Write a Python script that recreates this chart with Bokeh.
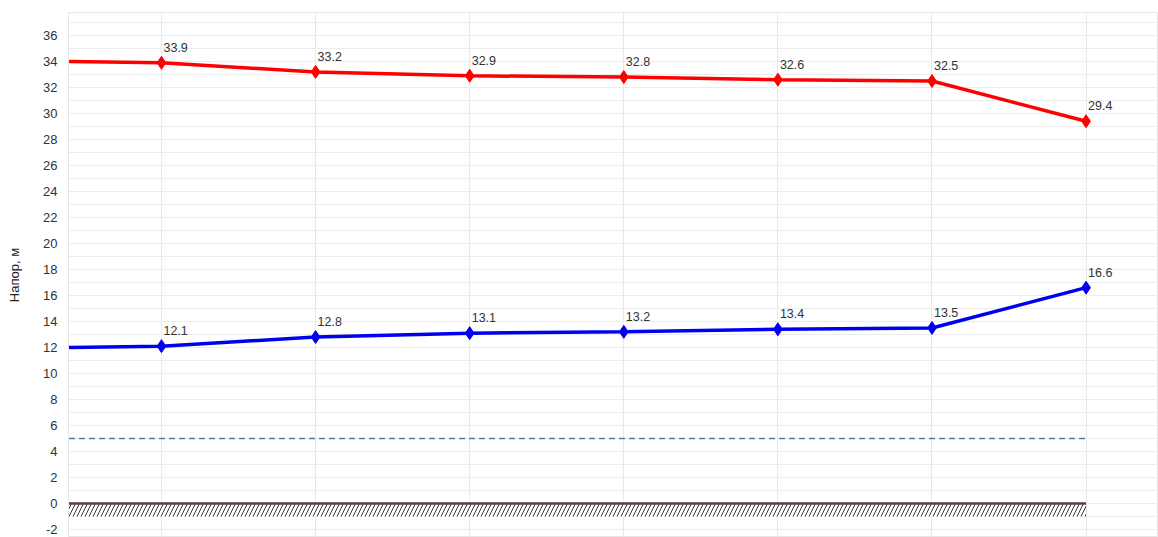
from bokeh.plotting import figure
from bokeh.models import FixedTicker, ColumnDataSource, CustomJSTickFormatter
from bokeh.core.properties import value
from bokeh.embed import file_html
from bokeh.resources import INLINE

# distance positions along the line (first point is the start, without marker)
positions = [-0.6, 0, 1, 2, 3, 4, 5, 6]
red_head = [34.0, 33.9, 33.2, 32.9, 32.8, 32.6, 32.5, 29.4]
blue_head = [12.0, 12.1, 12.8, 13.1, 13.2, 13.4, 13.5, 16.6]
min_head = 5
ground_level = 0
ground_depth = -1
y_ticks = list(range(-2, 37, 2))
x_grid = [0, 1, 2, 3, 4, 5, 6]

FONT = "Liberation Sans"

p = figure(width=1158, height=537, output_backend="svg", toolbar_location=None,
           x_range=(-0.6035, 6.47), y_range=(-2.62, 37.77),
           min_border_left=68, min_border_right=0, min_border_top=12, min_border_bottom=0)
p.background_fill_color = "white"
p.border_fill_color = "white"
p.outline_line_color = "#e6e6e6"

p.xaxis.visible = False
p.xaxis.ticker = FixedTicker(ticks=x_grid)
p.xgrid.grid_line_color = "#e8e8e8"

p.yaxis.ticker = FixedTicker(ticks=y_ticks, minor_ticks=list(range(-2, 38)))
p.yaxis.formatter = CustomJSTickFormatter(code="return String(tick);")
p.ygrid.grid_line_color = "#ececec"
p.ygrid.minor_grid_line_color = "#ececec"
p.yaxis.axis_line_color = None
p.yaxis.major_tick_line_color = None
p.yaxis.minor_tick_line_color = None
p.yaxis.major_label_text_font = FONT
p.yaxis.major_label_text_font_size = "13px"
p.yaxis.major_label_text_color = "#333333"
p.yaxis.major_label_standoff = 5
p.yaxis.axis_label = "Напор, м"
p.yaxis.axis_label_text_font = FONT
p.yaxis.axis_label_text_font_size = "13px"
p.yaxis.axis_label_text_font_style = "normal"
p.yaxis.axis_label_text_color = "#222222"
p.yaxis.axis_label_standoff = 18

# ground hatch
p.quad(left=positions[0], right=positions[-1], bottom=ground_depth, top=ground_level,
       fill_color="white", hatch_pattern="/", hatch_color="#333333",
       hatch_scale=8, hatch_weight=1, line_color=None)
p.line(x=[positions[0], positions[-1]], y=[ground_level, ground_level],
       line_color="#5b3b3b", line_width=2.5)

# minimum head dashed line
p.line(x=[positions[0], positions[-1]], y=[min_head, min_head],
       line_color="#4a7fa3", line_width=1.5, line_dash="6 4")

for vals, col in ((red_head, "#ff0000"), (blue_head, "#0000ee")):
    src = ColumnDataSource(dict(x=positions, y=vals))
    p.line("x", "y", source=src, line_color=col, line_width=3.5)
    msrc = ColumnDataSource(dict(x=positions[1:], y=vals[1:],
                                 lbl=[f"{v:.1f}" for v in vals[1:]]))
    p.scatter("x", "y", source=msrc, marker="diamond", size=13,
              fill_color=col, line_color=col)
    p.text("x", "y", text="lbl", source=msrc, x_offset=2, y_offset=-11,
           text_font=value(FONT), text_font_size="12.5px", text_color="#333333",
           text_baseline="bottom", text_align="left")

open("out.html", "w").write(file_html(p, INLINE))
